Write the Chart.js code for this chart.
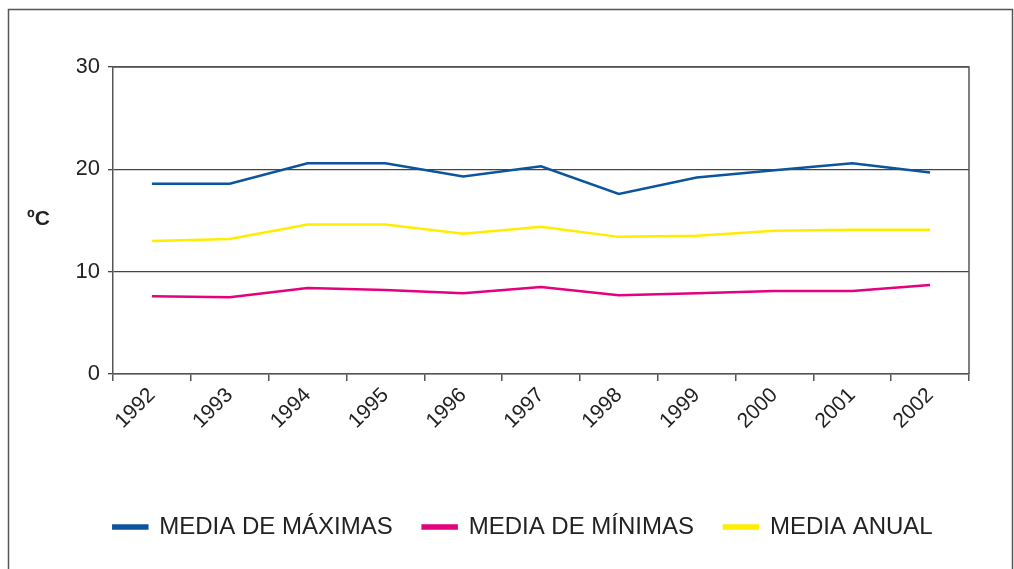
<!DOCTYPE html>
<html>
<head>
<meta charset="utf-8">
<script src="https://cdn.jsdelivr.net/npm/chart.js@4/dist/chart.umd.min.js"></script>
<style>
  html, body { margin: 0; padding: 0; background: #fff; }
  #wrap { position: relative; width: 1014px; height: 569px; }
</style>
</head>
<body>
<div id="wrap"><canvas id="chart"></canvas></div>
<script>
// ── Data ──
const years = ["1992", "1993", "1994", "1995", "1996", "1997", "1998", "1999", "2000", "2001", "2002"];
const mediaMaximas = [18.6, 18.6, 20.6, 20.6, 19.3, 20.3, 17.6, 19.2, 19.9, 20.6, 19.7];
const mediaMinimas = [7.6, 7.5, 8.4, 8.2, 7.9, 8.5, 7.7, 7.9, 8.1, 8.1, 8.7];
const mediaAnual = [13.0, 13.2, 14.6, 14.6, 13.7, 14.4, 13.4, 13.5, 14.0, 14.1, 14.1];
const yTicks = [0, 10, 20, 30];

const FONT = "'Liberation Sans', Arial, sans-serif";

// frame, plot border and the "ºC" label
const decorations = {
  id: "decorations",
  beforeDraw(chart) {
    const ctx = chart.ctx;
    ctx.save();
    ctx.strokeStyle = "#555";
    ctx.lineWidth = 1.5;
    ctx.strokeRect(8.5, 9.5, 1004, 600);
    ctx.restore();
  },
  afterDraw(chart) {
    const { ctx, chartArea: a } = chart;
    ctx.save();
    ctx.strokeStyle = "#555";
    ctx.lineWidth = 1.5;
    ctx.beginPath();
    ctx.moveTo(a.left, a.top);
    ctx.lineTo(a.right, a.top);
    ctx.lineTo(a.right, a.bottom);
    ctx.stroke();
    ctx.fillStyle = "#222";
    ctx.font = "bold 21px " + FONT;
    ctx.textBaseline = "middle";
    ctx.fillText("ºC", 27, 219);
    ctx.restore();
  },
};

function line(label, data, color) {
  return {
    label,
    data,
    borderColor: color,
    backgroundColor: color,
    borderWidth: 2.5,
    pointRadius: 0,
    tension: 0,
    fill: false,
  };
}

new Chart(document.getElementById("chart"), {
  type: "line",
  data: {
    labels: years,
    datasets: [
      line("MEDIA DE MÁXIMAS", mediaMaximas, "#0b559f"),
      line("MEDIA DE MÍNIMAS", mediaMinimas, "#e5007d"),
      line("MEDIA ANUAL", mediaAnual, "#ffed00"),
    ],
  },
  options: {
    responsive: true,
    maintainAspectRatio: false,
    animation: false,
    layout: { padding: { left: 77, right: 45, top: 67, bottom: 20 } },
    plugins: {
      tooltip: { enabled: false },
      legend: {
        position: "bottom",
        labels: {
          boxWidth: 34,
          boxHeight: 3,
          padding: 30,
          color: "#222",
          font: { family: FONT, size: 24 },
        },
      },
    },
    scales: {
      x: {
        offset: true,
        afterFit: (s) => { s.height = 111; },
        grid: {
          offset: true,
          drawOnChartArea: false,
          drawTicks: true,
          tickLength: 7,
          color: "#555",
          lineWidth: 1.5,
        },
        border: { color: "#555", width: 1.5 },
        ticks: {
          minRotation: 45,
          maxRotation: 45,
          padding: 2,
          color: "#222",
          font: { family: FONT, size: 21 },
        },
      },
      y: {
        min: 0,
        max: 30,
        afterFit: (s) => { s.width = 36; },
        afterBuildTicks: (s) => { s.ticks = yTicks.map((v) => ({ value: v })); },
        grid: {
          color: "#444",
          lineWidth: 1.3,
          tickLength: 5,
        },
        border: { color: "#555", width: 1.5 },
        ticks: {
          padding: 8,
          color: "#222",
          font: { family: FONT, size: 22 },
        },
      },
    },
  },
  plugins: [decorations],
});
</script>
</body>
</html>
